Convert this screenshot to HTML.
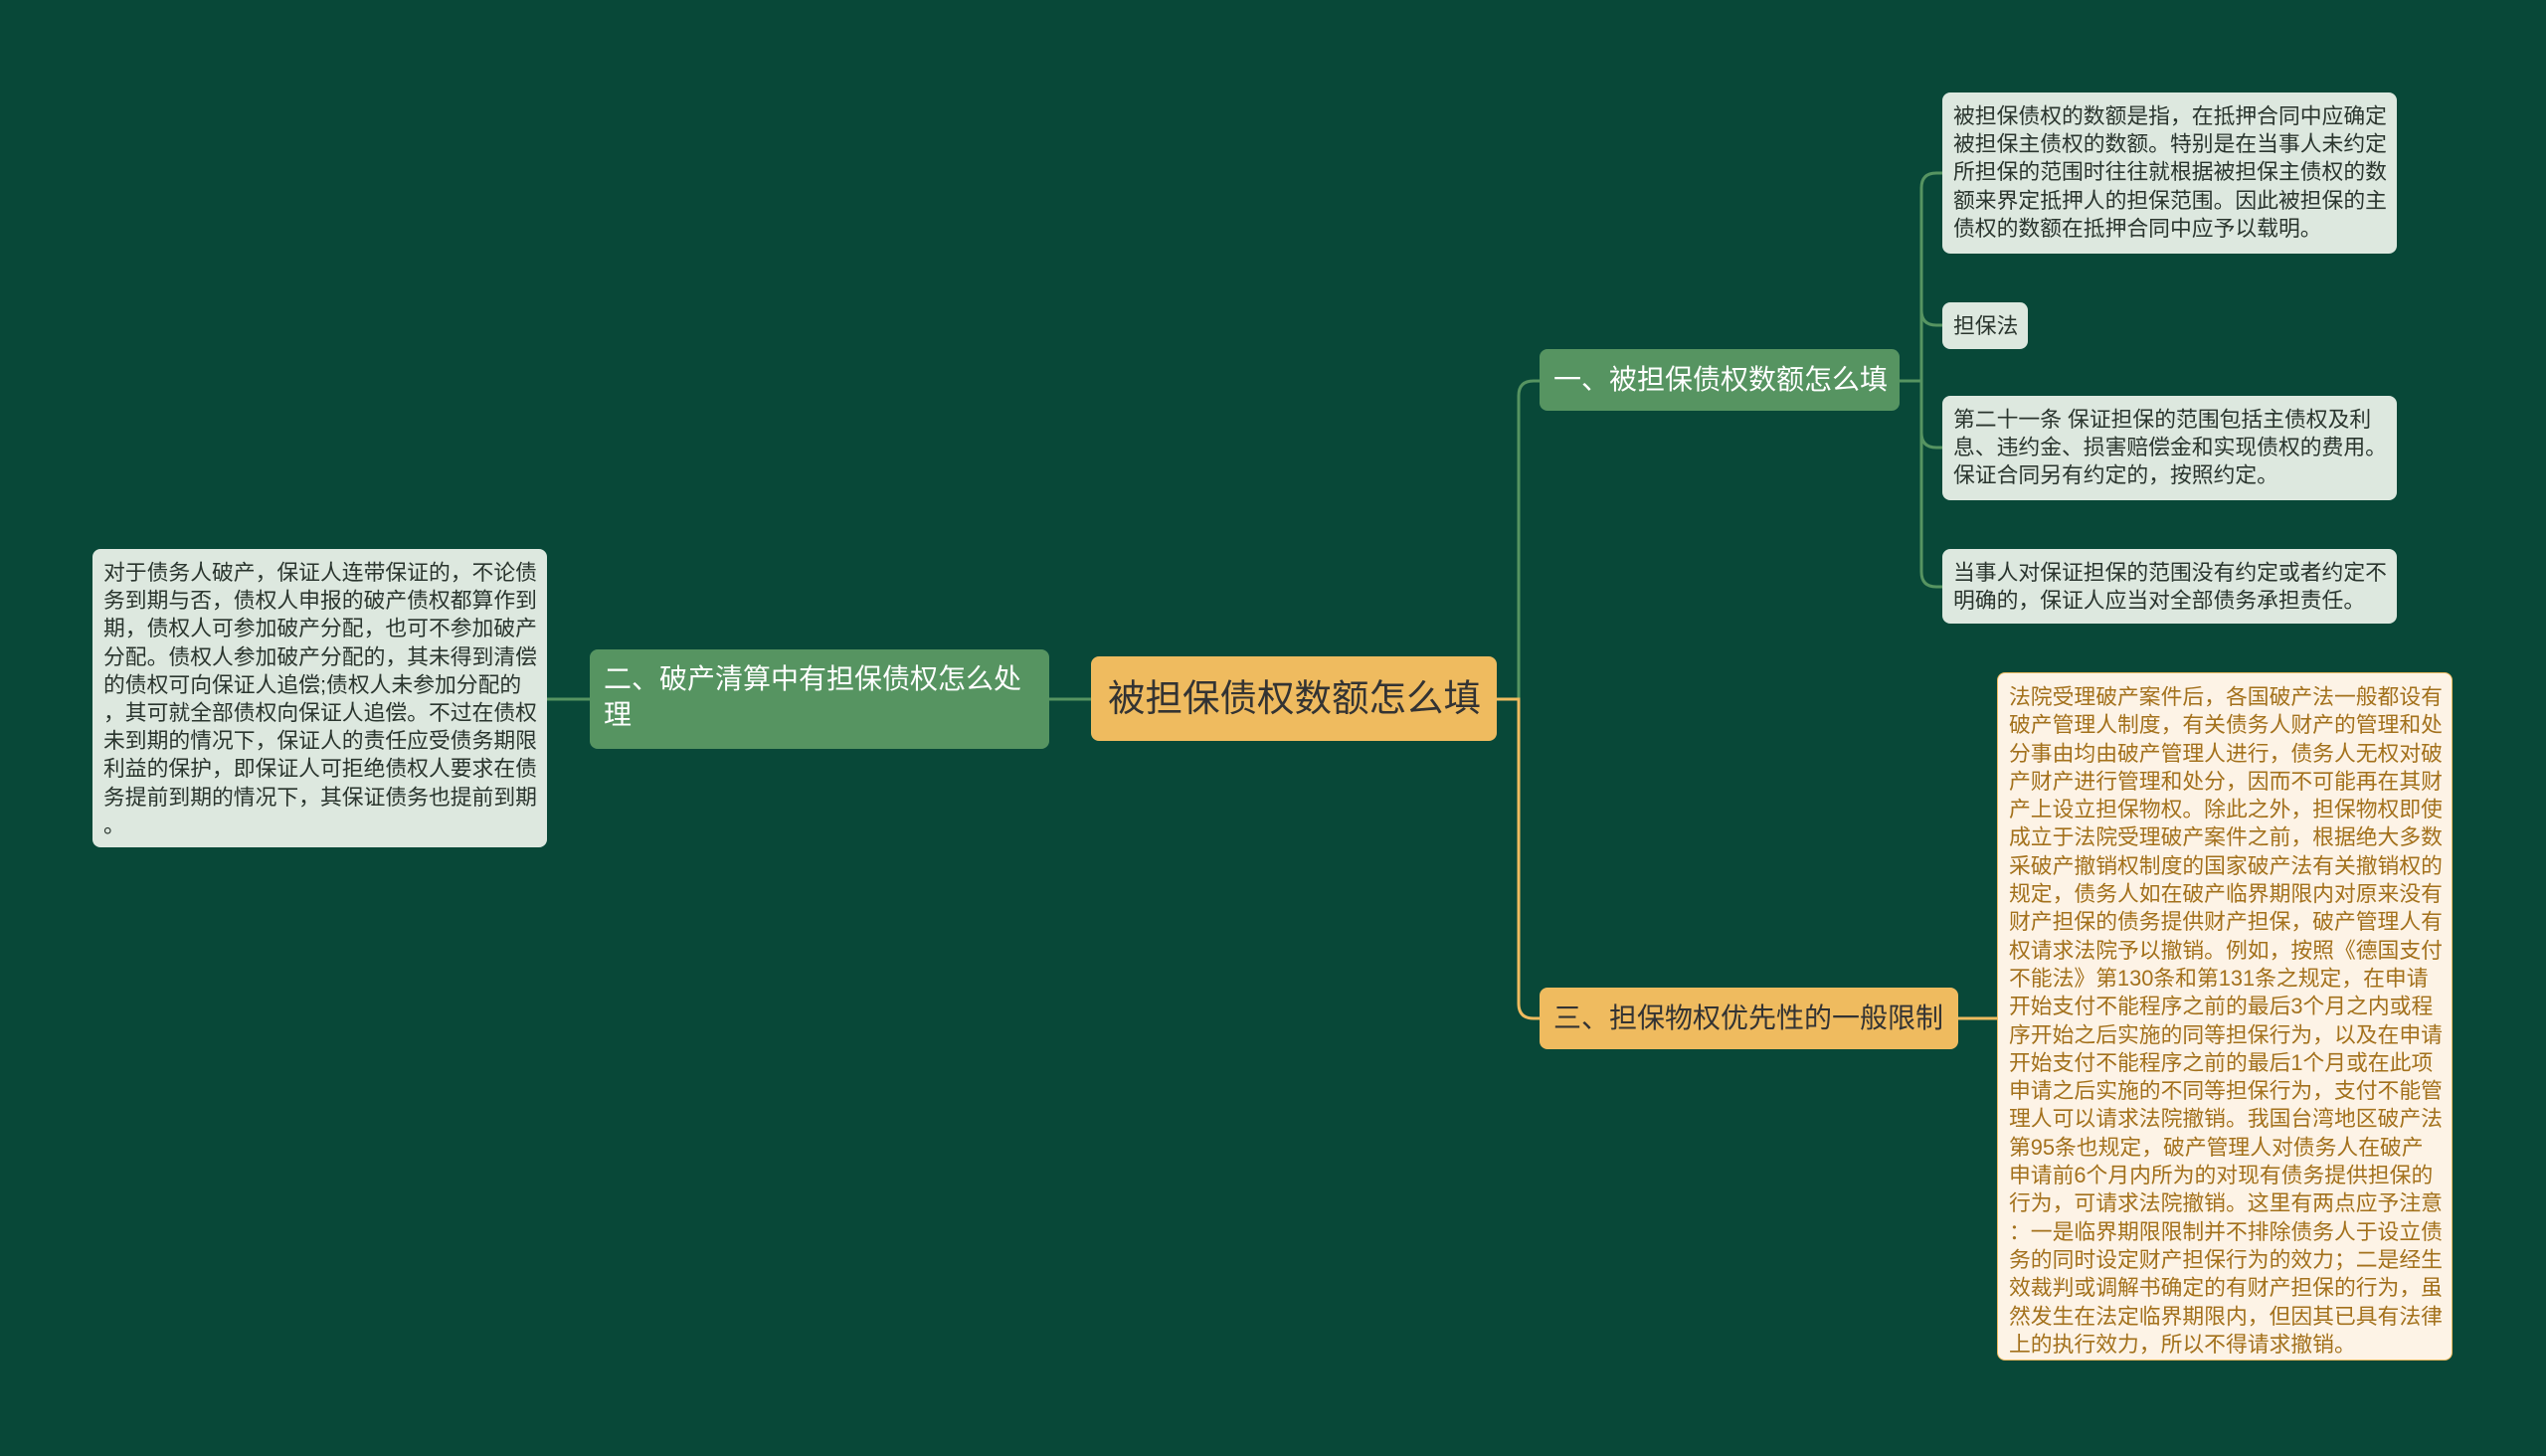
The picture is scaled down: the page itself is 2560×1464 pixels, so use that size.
<!DOCTYPE html>
<html><head><meta charset="utf-8"><style>
body{margin:0;width:2560px;height:1464px;background:#084838;position:relative;overflow:hidden;font-family:"Liberation Sans","Noto Sans CJK SC",sans-serif}
.n{position:absolute;box-sizing:border-box;border-radius:8px;white-space:nowrap}
.leaf{background:#dde8df;color:#2a352e;font-size:21.8px;line-height:28.2px;padding:10px 10px 0 11px}
.g{background:#569461;color:#fff;font-size:28px}
.o{background:#efbb5f;color:#333;font-size:28px}
</style></head><body>
<svg width="2560" height="1464" style="position:absolute;left:0;top:0" fill="none" stroke-width="3">
<path d="M550 703H593M1055 703H1097" stroke="#569461"/>
<path d="M1505 703H1527V398Q1527 383 1542 383H1548" stroke="#569461"/>
<path d="M1505 703H1527V1009Q1527 1024 1542 1024H1548" stroke="#efbb5f"/>
<path d="M1969 1024H2008" stroke="#efbb5f"/>
<path d="M1910 383H1932M1932 189Q1932 174 1947 174H1953M1932 312Q1932 327 1947 327H1953M1932 435Q1932 450 1947 450H1953M1932 575Q1932 590 1947 590H1953M1932 189V575" stroke="#569461"/>
</svg>
<div class="n o" style="left:1097px;top:660px;width:408px;height:85px;font-size:37.5px;line-height:85px;padding-left:17px">被担保债权数额怎么填</div>
<div class="n g" style="left:593px;top:653px;width:462px;height:100px;line-height:36px;padding:12px 0 0 14px">二、破产清算中有担保债权怎么处<br>理</div>
<div class="n g" style="left:1548px;top:351px;width:362px;height:62px;line-height:62px;padding-left:14px">一、被担保债权数额怎么填</div>
<div class="n o" style="left:1548px;top:993px;width:421px;height:62px;line-height:62px;padding-left:14px">三、担保物权优先性的一般限制</div>
<div class="n leaf" style="left:93px;top:552px;width:457px;height:300px">对于债务人破产，保证人连带保证的，不论债<br>务到期与否，债权人申报的破产债权都算作到<br>期，债权人可参加破产分配，也可不参加破产<br>分配。债权人参加破产分配的，其未得到清偿<br>的债权可向保证人追偿;债权人未参加分配的<br>，其可就全部债权向保证人追偿。不过在债权<br>未到期的情况下，保证人的责任应受债务期限<br>利益的保护，即保证人可拒绝债权人要求在债<br>务提前到期的情况下，其保证债务也提前到期<br>。</div>
<div class="n leaf" style="left:1953px;top:93px;width:457px;height:162px">被担保债权的数额是指，在抵押合同中应确定<br>被担保主债权的数额。特别是在当事人未约定<br>所担保的范围时往往就根据被担保主债权的数<br>额来界定抵押人的担保范围。因此被担保的主<br>债权的数额在抵押合同中应予以载明。</div>
<div class="n leaf" style="left:1953px;top:304px;width:86px;height:47px;line-height:47px;padding-top:0">担保法</div>
<div class="n leaf" style="left:1953px;top:398px;width:457px;height:105px">第二十一条 保证担保的范围包括主债权及利<br>息、违约金、损害赔偿金和实现债权的费用。<br>保证合同另有约定的，按照约定。</div>
<div class="n leaf" style="left:1953px;top:552px;width:457px;height:75px">当事人对保证担保的范围没有约定或者约定不<br>明确的，保证人应当对全部债务承担责任。</div>
<div class="n leaf" style="left:2008px;top:676px;width:458px;height:692px;background:#fdf3e6;color:#a3711c;border:1px solid #efbb5f;line-height:28.3px">法院受理破产案件后，各国破产法一般都设有<br>破产管理人制度，有关债务人财产的管理和处<br>分事由均由破产管理人进行，债务人无权对破<br>产财产进行管理和处分，因而不可能再在其财<br>产上设立担保物权。除此之外，担保物权即使<br>成立于法院受理破产案件之前，根据绝大多数<br>采破产撤销权制度的国家破产法有关撤销权的<br>规定，债务人如在破产临界期限内对原来没有<br>财产担保的债务提供财产担保，破产管理人有<br>权请求法院予以撤销。例如，按照《德国支付<br>不能法》第130条和第131条之规定，在申请<br>开始支付不能程序之前的最后3个月之内或程<br>序开始之后实施的同等担保行为，以及在申请<br>开始支付不能程序之前的最后1个月或在此项<br>申请之后实施的不同等担保行为，支付不能管<br>理人可以请求法院撤销。我国台湾地区破产法<br>第95条也规定，破产管理人对债务人在破产<br>申请前6个月内所为的对现有债务提供担保的<br>行为，可请求法院撤销。这里有两点应予注意<br>：一是临界期限限制并不排除债务人于设立债<br>务的同时设定财产担保行为的效力；二是经生<br>效裁判或调解书确定的有财产担保的行为，虽<br>然发生在法定临界期限内，但因其已具有法律<br>上的执行效力，所以不得请求撤销。</div>
</body></html>
